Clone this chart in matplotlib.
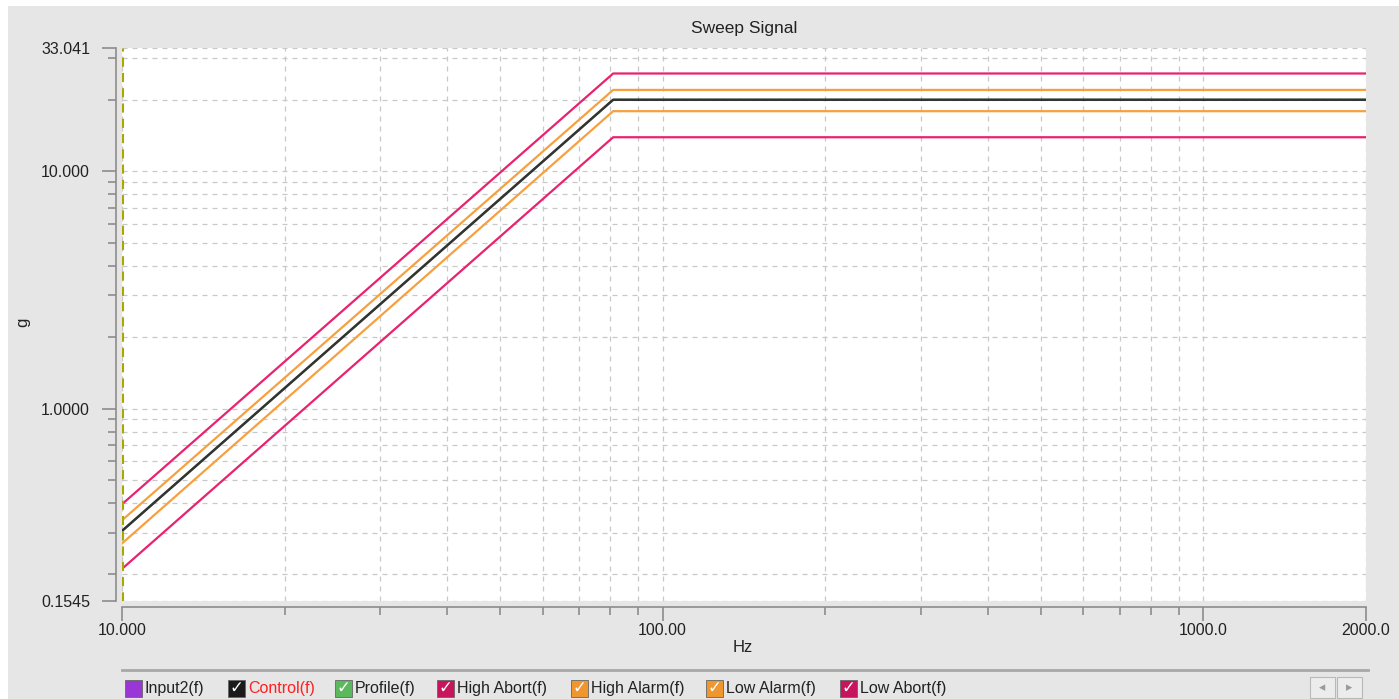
import matplotlib
matplotlib.use('Agg')
from matplotlib import pyplot as plt
from matplotlib.patches import Rectangle
from matplotlib.ticker import FixedLocator, FixedFormatter, NullFormatter

plt.rcParams['font.family'] = ['Liberation Sans', 'DejaVu Sans']

# sweep profile (Hz, g)
freq = [10, 81, 2000]
control = [0.305, 20.0, 20.0]
profile = [0.305, 20.0, 20.0]
high_abort = [0.395, 25.8, 25.8]
high_alarm = [0.338, 22.0, 22.0]
low_alarm = [0.27, 17.9, 17.9]
low_abort = [0.211, 13.9, 13.9]

x_major = [10, 100, 1000, 2000]
x_labels = ['10.000', '100.00', '1000.0', '2000.0']
x_minor = [20, 30, 40, 50, 60, 70, 80, 90, 200, 300, 400, 500, 600, 700, 800, 900]
y_major = [0.1545, 1, 10, 33.041]
y_labels = ['0.1545', '1.0000', '10.000', '33.041']
y_minor = [0.2, 0.3, 0.4, 0.5, 0.6, 0.7, 0.8, 0.9, 2, 3, 4, 5, 6, 7, 8, 9, 20, 30]

legend_names = ['Input2(f)', 'Control(f)', 'Profile(f)', 'High Abort(f)',
                'High Alarm(f)', 'Low Alarm(f)', 'Low Abort(f)']
legend_colors = ['#9a35d6', '#1a1a1a', '#5cb85c', '#c8145c',
                 '#f0962e', '#f0962e', '#c8145c']

W, H = 1399, 699
fig = plt.figure(figsize=(W / 100, H / 100), dpi=100)
fig.patch.set_facecolor('white')
fig.patches.append(Rectangle((8 / W, 0), 1, 1 - 6 / H, transform=fig.transFigure,
                             facecolor='#e6e6e6', edgecolor='none', zorder=-10))

ax = fig.add_axes([122 / W, 1 - 601 / H, (1366 - 122) / W, (601 - 48) / H])
ax.set_facecolor('white')
ax.set_xscale('log')
ax.set_yscale('log')
ax.set_xlim(10, 2000)
ax.set_ylim(0.1545, 33.041)

ax.xaxis.set_major_locator(FixedLocator(x_major))
ax.xaxis.set_major_formatter(FixedFormatter(x_labels))
ax.xaxis.set_minor_locator(FixedLocator(x_minor))
ax.xaxis.set_minor_formatter(NullFormatter())
ax.yaxis.set_major_locator(FixedLocator(y_major))
ax.yaxis.set_major_formatter(FixedFormatter(y_labels))
ax.yaxis.set_minor_locator(FixedLocator(y_minor))
ax.yaxis.set_minor_formatter(NullFormatter())

ax.grid(True, which='both', color='#c8c8c8', linestyle=(0, (4, 4)), linewidth=0.9)
ax.set_axisbelow(True)

for s in ['top', 'right']:
    ax.spines[s].set_visible(False)
for s in ['left', 'bottom']:
    ax.spines[s].set_position(('outward', 4))
    ax.spines[s].set_color('#8c8c8c')
    ax.spines[s].set_linewidth(1.2)
ax.tick_params(axis='y', which='major', length=10, width=1.2, color='#8c8c8c',
               labelsize=11.5, labelcolor='#222222', pad=9)
ax.tick_params(axis='x', which='major', length=10, width=1.2, color='#8c8c8c',
               labelsize=11.5, labelcolor='#222222', pad=2)
ax.tick_params(which='minor', length=6, width=1.2, color='#8c8c8c')

ax.axvline(10, color='#a8a800', linestyle=(0, (3, 2)), linewidth=2.2, zorder=5)

ax.plot(freq, low_abort, color='#e8226e', lw=1.6, zorder=3)
ax.plot(freq, high_abort, color='#e8226e', lw=1.6, zorder=3)
ax.plot(freq, low_alarm, color='#f7a040', lw=1.6, zorder=3)
ax.plot(freq, high_alarm, color='#f7a040', lw=1.6, zorder=3)
ax.plot(freq, profile, color='#4caf50', lw=1.4, zorder=3)
ax.plot(freq, control, color='#333333', lw=1.8, zorder=4)

fig.text(744 / W, 1 - 28 / H, 'Sweep Signal', ha='center', va='center',
         fontsize=12.5, color='#222222')
fig.text(23 / W, 1 - 322 / H, 'g', ha='center', va='center', rotation=90,
         fontsize=12, color='#222222')
fig.text(743 / W, 1 - 648 / H, 'Hz', ha='center', va='center',
         fontsize=12, color='#222222')

# legend strip at the bottom
fig.lines.append(plt.Line2D([122 / W, 1368 / W], [1 - 670 / H, 1 - 670 / H],
                            transform=fig.transFigure, color='#a8a8a8', lw=2))
box_x = [125, 228, 335, 437, 571, 706, 840]
bw, bh = 17, 17
for bx, name, col in zip(box_x, legend_names, legend_colors):
    fig.patches.append(Rectangle((bx / W, (H - 697) / H), bw / W, bh / H,
                                 transform=fig.transFigure, facecolor=col,
                                 edgecolor='#666666', lw=0.6))
    if name != 'Input2(f)':
        fig.text((bx + bw / 2) / W, (H - 688) / H, '\u2713', ha='center', va='center',
                 fontsize=12, color='white', fontweight='bold', family='DejaVu Sans')
    fig.text((bx + bw + 3) / W, (H - 688) / H, name, ha='left', va='center',
             fontsize=11.5, color='#ff2020' if name == 'Control(f)' else '#222222')

for bx, arrow in zip([1310, 1337], ['\u25c2', '\u25b8']):
    fig.patches.append(Rectangle((bx / W, (H - 698) / H), 25 / W, 21 / H,
                                 transform=fig.transFigure, facecolor='#ececec',
                                 edgecolor='#b8b8b8', lw=0.8))
    fig.text((bx + 12.5) / W, (H - 687.5) / H, arrow, ha='center', va='center',
             fontsize=9, color='#9a9a9a', family='DejaVu Sans')

fig.savefig('out.png', dpi=100, facecolor=fig.get_facecolor())
